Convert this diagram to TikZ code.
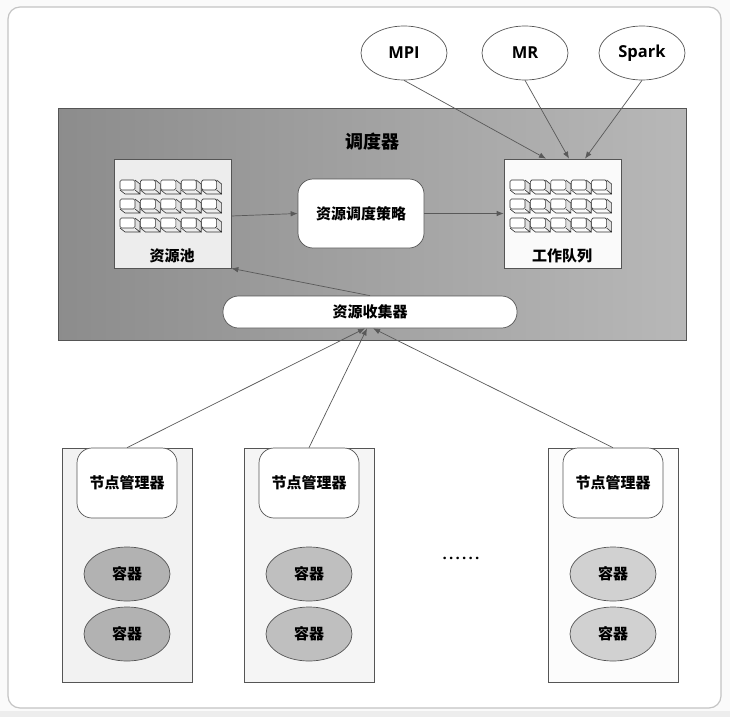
\documentclass[tikz,border=0pt]{standalone}
\usepackage{fontspec}
\setmainfont{Noto Sans CJK SC}
\newfontfamily\latinfont{Open Sans}
\newfontfamily\dotsfont[LetterSpace=15]{Open Sans}
\usetikzlibrary{shapes.geometric,arrows.meta}
\definecolor{edgegray}{HTML}{555555}
\definecolor{panelgray}{HTML}{C4C4C4}
\begin{document}
\begin{tikzpicture}[x=1pt,y=-1pt]
    \tikzset{font={\fontsize{15pt}{16pt}\selectfont\bfseries},
      box/.style={draw=edgegray,line width=.7pt,inner sep=0pt},
      softbox/.style={box,rounded corners=15pt,fill=white},
      oval/.style={box,ellipse,minimum width=86pt,minimum height=54pt},
      arr/.style={-{Latex[length=7pt,width=5.5pt]},line width=.7pt,draw=black!65}}
    \useasboundingbox (0,0) rectangle (730,717);
    \fill [black!2] (0,0) rectangle (730,717);
    \fill [black!7] (0,711) rectangle (730,717);
    \node [draw=panelgray,line width=1.2pt,fill=white,rounded corners=12pt,inner sep=0pt,
      minimum width=713pt,minimum height=701pt] (panel) at (364.5,357.5) {};
    % scheduler
    \node [box,shade,left color=black!45,right color=black!28,
      minimum width=628pt,minimum height=232pt] (sched) at (372,224) {};
    \node (schedlabel) at (372,142) {\fontsize{18pt}{19pt}\selectfont 调度器};
    \node [box,fill=black!7,minimum width=117pt,minimum height=109pt] (pool) at (172.5,213.5) {};
    \node [box,fill=black!2,minimum width=117pt,minimum height=109pt] (queue) at (562.5,213.5) {};
    \node (poollabel) at (172,256) {资源池};
    \node (queuelabel) at (562,256) {工作队列};
    \foreach \ox in {120,510}
      \foreach \i in {0,...,4}
        \foreach \j in {0,...,2} {
          \begin{scope}[shift={(\ox+\i*20.4,180+\j*19)},line width=.6pt]
            \fill [black!12] (15,0)--(20,4)--(20,14)--(15,10)--cycle;
            \draw [black!80] (15,0)--(20,4)--(20,14)--(15,10) (20,14)--(5,14)--(0,10);
            \draw [black!80,fill=white,rounded corners=1.5pt] (0,0) rectangle (15,10);
          \end{scope}
        }
    \node [softbox,minimum width=126pt,minimum height=69pt] (policy) at (361,213.5) {资源调度策略};
    \node [box,fill=white,rounded corners=15.5pt,minimum width=294pt,minimum height=32pt] (collector) at (370,312) {资源收集器};
    % frameworks
    \node [oval,fill=white] (mpi) at (404,53) {\fontsize{16.5pt}{17pt}\latinfont\bfseries MPI};
    \node [oval,fill=white] (mr) at (525,53) {\fontsize{16.5pt}{17pt}\latinfont\bfseries MR};
    \node [oval,fill=white] (spark) at (642,53) {\fontsize{16.5pt}{17pt}\latinfont\bfseries Spark};
    \draw [arr] (mpi.south)--([xshift=-16.5pt]queue.north);
    \draw [arr] (mr.south)--([xshift=6.5pt]queue.north);
    \draw [arr] (spark.south)--([xshift=22.5pt]queue.north);
    \draw [arr] ([yshift=-2.5pt]pool.east)--(policy.west);
    \draw [arr] (policy.east)--(queue.west);
    \draw [arr] (collector.north)--(pool.south east);
    % node managers
    \foreach \nx/\nm/\boxfill/\ovalfill/\tx in {127/a/5/30/-5,309/b/4/25/-3,613/c/1/18/3} {
      \node [box,fill=black!\boxfill,minimum width=130pt,minimum height=234pt] (node\nm) at (\nx,565) {};
      \node [softbox,minimum width=100pt,minimum height=70pt] (mgr\nm) at (\nx,483) {节点管理器};
      \node [oval,fill=black!\ovalfill] (conta\nm) at (\nx,574) {容器};
      \node [oval,fill=black!\ovalfill] (contb\nm) at (\nx,634) {容器};
      \draw [arr] (mgr\nm.north)--([xshift=\tx pt]collector.south);
    }
    \node (dots) at (461,558) {\dotsfont\bfseries ......};
\end{tikzpicture}
\end{document}
